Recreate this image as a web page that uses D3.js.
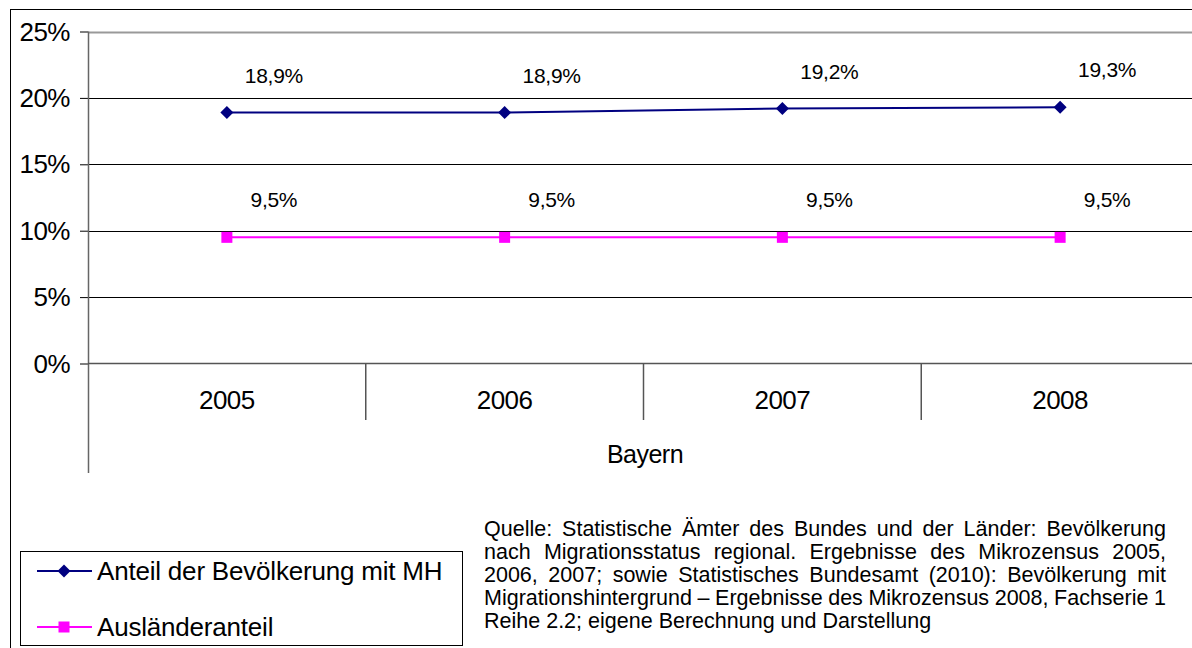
<!DOCTYPE html>
<html>
<head>
<meta charset="utf-8">
<script src="https://cdn.jsdelivr.net/npm/d3@7"></script>
<style>
  body { margin: 0; background: #fff; }
  svg text { font-family: Arial, "Liberation Sans", sans-serif; fill: #000; }
</style>
</head>
<body>
<div id="chart"></div>
<script>
// data
const years = ["2005", "2006", "2007", "2008"];
const anteilMH = [18.9, 18.9, 19.2, 19.3];
const auslaender = [9.5, 9.5, 9.5, 9.5];
const yTicks = [0, 5, 10, 15, 20, 25];
const seriesNames = ["Anteil der Bevölkerung mit MH", "Ausländeranteil"];
const groupLabel = "Bayern";
const sourceLines = [
    "Quelle: Statistische Ämter des Bundes und der Länder: Bevölkerung",
    "nach Migrationsstatus regional. Ergebnisse des Mikrozensus 2005,",
    "2006, 2007; sowie Statistisches Bundesamt (2010): Bevölkerung mit",
    "Migrationshintergrund – Ergebnisse des Mikrozensus 2008, Fachserie 1",
    "Reihe 2.2; eigene Berechnung und Darstellung"
];

const W = 1192, H = 648;
const plot = { left: 88, top: 31.5, width: 1111, height: 332 };

const svg = d3.select("#chart").append("svg")
    .attr("width", W)
    .attr("height", H);

// outer frame
svg.append("rect")
    .attr("x", 10.5).attr("y", 9.5)
    .attr("width", 1190).attr("height", 700)
    .attr("fill", "none")
    .attr("stroke", "#000");

const x = d3.scaleBand()
    .domain(years)
    .range([plot.left, plot.left + plot.width]);

const y = d3.scaleLinear()
    .domain([0, 25])
    .range([plot.top + plot.height, plot.top]);

// gridlines
svg.append("g")
    .selectAll("line")
    .data(yTicks.filter(d => d > 0))
    .join("line")
    .attr("x1", plot.left).attr("x2", plot.left + plot.width)
    .attr("y1", d => Math.round(y(d)) + 0.5)
    .attr("y2", d => Math.round(y(d)) + 0.5)
    .attr("stroke", d => d === 25 ? "#999" : "#000")
    .attr("stroke-width", d => d === 25 ? 2 : 1);

// y axis
const yAxis = svg.append("g")
    .attr("transform", `translate(${plot.left},0)`)
    .call(d3.axisLeft(y).tickValues(yTicks).tickSize(8).tickFormat(d => d + "%"));
yAxis.select(".domain").remove();
yAxis.selectAll(".tick line").attr("stroke", "#000");
yAxis.selectAll(".tick text")
    .attr("x", -18)
    .attr("dy", "0.33em")
    .style("font-size", "26px")
    .style("letter-spacing", "-0.5px");

// left axis line, runs down through the category area
svg.append("line")
    .attr("x1", plot.left + 0.5).attr("x2", plot.left + 0.5)
    .attr("y1", plot.top).attr("y2", 473)
    .attr("stroke", "#666").attr("stroke-width", 1.5);

// x axis line (0%)
svg.append("line")
    .attr("x1", plot.left).attr("x2", plot.left + plot.width)
    .attr("y1", y(0)).attr("y2", y(0))
    .attr("stroke", "#555").attr("stroke-width", 1.5);

// category dividers
svg.append("g")
    .selectAll("line")
    .data(years.slice(1))
    .join("line")
    .attr("x1", d => x(d)).attr("x2", d => x(d))
    .attr("y1", y(0)).attr("y2", 420)
    .attr("stroke", "#555").attr("stroke-width", 1.5);

svg.append("g")
    .selectAll("text")
    .data(years)
    .join("text")
    .attr("x", d => x(d) + x.bandwidth() / 2)
    .attr("y", 409)
    .attr("text-anchor", "middle")
    .style("font-size", "26px")
    .style("letter-spacing", "-0.5px")
    .text(d => d);

svg.append("text")
    .attr("x", 645).attr("y", 463)
    .attr("text-anchor", "middle")
    .style("font-size", "25px")
    .style("letter-spacing", "-0.5px")
    .text(groupLabel);

// series
const series = [
    { name: seriesNames[0], values: anteilMH, color: "#000080", marker: "diamond" },
    { name: seriesNames[1], values: auslaender, color: "#ff00ff", marker: "square" }
];

const line = d3.line()
    .x((d, i) => x(years[i]) + x.bandwidth() / 2)
    .y(d => y(d));

function drawMarker(g, type, color) {
    if (type === "diamond") {
        g.append("path")
            .attr("d", "M0,-6.5L6.5,0L0,6.5L-6.5,0Z")
            .attr("fill", color);
    } else {
        g.append("rect")
            .attr("x", -5.5).attr("y", -5.5)
            .attr("width", 11).attr("height", 11)
            .attr("fill", color);
    }
}

series.forEach(s => {
    svg.append("path")
        .datum(s.values)
        .attr("d", line)
        .attr("fill", "none")
        .attr("stroke", s.color)
        .attr("stroke-width", 2);

    s.values.forEach((v, i) => {
        const cx = x(years[i]) + x.bandwidth() / 2;
        const g = svg.append("g").attr("transform", `translate(${cx},${y(v)})`);
        drawMarker(g, s.marker, s.color);

        svg.append("text")
            .attr("x", cx + 47)
            .attr("y", y(v) - 30)
            .attr("text-anchor", "middle")
            .style("font-size", "21px")
            .style("letter-spacing", "-0.3px")
            .text(d3.format(".1f")(v).replace(".", ",") + "%");
    });
});

// legend
const legend = svg.append("g");
legend.append("rect")
    .attr("x", 20.5).attr("y", 551.5)
    .attr("width", 442).attr("height", 94)
    .attr("fill", "#fff")
    .attr("stroke", "#000");

series.forEach((s, i) => {
    const ly = 571 + i * 56;
    legend.append("line")
        .attr("x1", 37).attr("x2", 92)
        .attr("y1", ly).attr("y2", ly)
        .attr("stroke", s.color).attr("stroke-width", 2);
    drawMarker(legend.append("g").attr("transform", `translate(64,${ly})`), s.marker, s.color);
    legend.append("text")
        .attr("x", 97).attr("y", ly + 9)
        .style("font-size", "26px")
        .style("letter-spacing", "-0.2px")
        .text(s.name);
});

// source note, justified word by word
const src = svg.append("g").style("font-size", "21.5px");
const srcLeft = 484, srcRight = 1166;
sourceLines.forEach((t, li) => {
    const by = 536 + li * 23;
    const words = t.split(" ");
    const nodes = words.map(w => src.append("text").attr("y", by).text(w));
    const widths = nodes.map(n => n.node().getComputedTextLength());
    const total = d3.sum(widths);
    const last = li === sourceLines.length - 1;
    const gap = last ? 6 : (srcRight - srcLeft - total) / (words.length - 1);
    let cx = srcLeft;
    nodes.forEach((n, k) => {
        n.attr("x", cx);
        cx += widths[k] + gap;
    });
});
</script>
</body>
</html>
